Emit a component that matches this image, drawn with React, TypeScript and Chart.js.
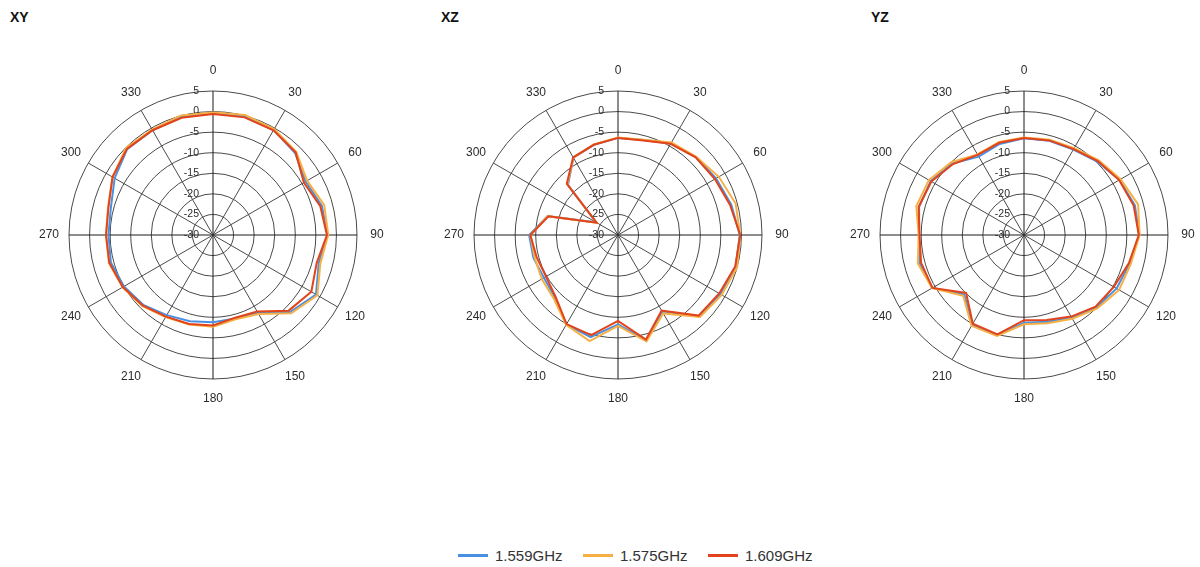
import React, { useEffect, useRef } from 'react';
import { Chart, registerables } from 'chart.js';

Chart.register(...registerables);

// Angles (degrees), one point every 15°, clockwise from top
const angleLabels = ['0', '15', '30', '45', '60', '75', '90', '105', '120', '135', '150', '165', '180', '195', '210', '225', '240', '255', '270', '285', '300', '315', '330', '345'];
const tickValues = [-30, -25, -20, -15, -10, -5, 0, 5];
const seriesNames = ['1.559GHz', '1.575GHz', '1.609GHz'];
const seriesColors = ['#4a90e2', '#f7b045', '#e2431b'];

// XY plane
const xy1559 = [-0.3, -0.2, -0.5, -1.8, -4.0, -2.6, -2.2, -3.4, -1.1, -3.5, -8.1, -9.0, -8.8, -8.3, -7.5, -6.0, -5.0, -4.3, -4.6, -4.3, -2.4, -0.5, -0.6, -0.3];
const xy1575 = [-0.2, 0.2, -0.3, -1.4, -3.6, -2.0, -2.0, -3.0, -0.7, -3.1, -7.8, -8.8, -7.7, -7.5, -7.0, -5.6, -4.6, -3.8, -4.0, -3.6, -1.8, -0.1, -0.4, 0.1];
const xy1609 = [-0.6, -0.4, -0.6, -1.6, -4.5, -3.0, -2.3, -3.9, -2.4, -4.0, -8.5, -9.2, -8.0, -7.6, -7.1, -5.8, -4.7, -3.9, -4.0, -3.7, -1.8, -0.4, -0.6, -0.5];

// XZ plane
const xz1559 = [-6.4, -6.1, -4.3, -3.2, -2.5, -1.5, -0.4, -0.4, -1.3, -2.1, -8.5, -3.5, -8.3, -4.3, -4.9, -8.4, -9.2, -8.7, -8.4, -12.3, -23.8, -12.8, -8.3, -7.3];
const xz1575 = [-6.3, -6.0, -4.0, -3.1, -1.7, -0.4, -0.3, 0.0, -0.9, -1.8, -8.0, -3.2, -7.9, -3.3, -4.8, -8.0, -8.6, -9.0, -8.7, -12.3, -24.0, -12.6, -8.3, -7.2];
const xz1609 = [-6.4, -6.2, -4.4, -3.3, -2.8, -1.8, -0.3, -0.5, -1.6, -2.3, -8.8, -3.7, -9.1, -4.8, -5.0, -8.6, -9.8, -9.5, -8.7, -12.5, -24.0, -12.4, -8.2, -7.3];

// YZ plane
const yz1559 = [-6.5, -6.3, -6.0, -4.8, -3.2, -2.1, -2.0, -3.4, -4.0, -5.1, -6.8, -8.2, -8.7, -4.8, -4.8, -9.5, -4.3, -3.7, -4.5, -3.6, -3.8, -5.4, -8.0, -7.1];
const yz1575 = [-6.3, -6.0, -5.6, -4.3, -2.9, -1.3, -1.9, -3.1, -3.3, -4.8, -6.5, -7.8, -8.3, -4.6, -4.5, -9.1, -4.2, -3.3, -4.4, -2.9, -3.3, -5.0, -7.4, -6.6];
const yz1609 = [-6.4, -6.2, -5.9, -4.6, -3.3, -2.4, -2.1, -3.6, -4.8, -5.4, -7.1, -8.6, -9.3, -5.0, -5.1, -10.1, -4.3, -4.1, -4.6, -3.5, -4.0, -5.6, -7.5, -6.8];

const panels = [
  { title: 'XY', titleX: 10, cx: 213, series: [xy1559, xy1575, xy1609] },
  { title: 'XZ', titleX: 441, cx: 618, series: [xz1559, xz1575, xz1609] },
  { title: 'YZ', titleX: 871, cx: 1024, series: [yz1559, yz1575, yz1609] },
];

const FONT = '"Liberation Sans", Arial, sans-serif';
const CANVAS_W = 352;
const CANVAS_H = 400;
const CENTER_Y = 235;

const polarLabelsPlugin = {
  id: 'polarLabels',
  beforeDatasetsDraw(chart: any) {
    const s = chart.scales.r;
    const ctx = chart.ctx;
    ctx.save();
    ctx.fillStyle = '#2b2b2b';
    ctx.font = '12px ' + FONT;
    ctx.textAlign = 'center';
    ctx.textBaseline = 'middle';
    chart.data.labels.forEach((lab: string, i: number) => {
      if (i % 2 !== 0) return;
      const p = s.getPointPosition(i, s.drawingArea + 20);
      ctx.fillText(lab, p.x, p.y);
    });
    ctx.font = '10.5px ' + FONT;
    ctx.textAlign = 'right';
    tickValues.forEach((v) => {
      const d = s.getDistanceFromCenterForValue(v);
      ctx.fillText(String(v), s.xCenter - 14, s.yCenter - d);
    });
    ctx.restore();
  },
};

function PolarChart({ series }: { series: number[][] }) {
  const ref = useRef<HTMLCanvasElement>(null);
  useEffect(() => {
    if (!ref.current) return;
    const chart = new Chart(ref.current, {
      type: 'radar',
      data: {
        labels: angleLabels,
        datasets: series.map((d, i) => ({
          label: seriesNames[i],
          data: d,
          borderColor: seriesColors[i],
          backgroundColor: 'transparent',
          borderWidth: 2,
          fill: false,
          pointRadius: 0,
          tension: 0,
          order: 2 - i,
        })),
      },
      options: {
        responsive: false,
        animation: false,
        layout: { padding: { left: 32, right: 32, top: 56, bottom: 56 } },
        plugins: { legend: { display: false }, tooltip: { enabled: false } },
        scales: {
          r: {
            min: -30,
            max: 5,
            ticks: { stepSize: 5, display: false },
            grid: { circular: true, color: '#4a4a4a', lineWidth: 1 },
            angleLines: {
              display: true,
              lineWidth: 1,
              color: (c: any) => (c.index % 6 === 0 ? '#1a1a1a' : c.index % 2 === 0 ? '#4a4a4a' : 'transparent'),
            },
            pointLabels: { display: false },
          },
        },
      } as any,
      plugins: [polarLabelsPlugin],
    });
    return () => chart.destroy();
  }, [series]);
  return <canvas ref={ref} width={CANVAS_W} height={CANVAS_H} style={{ width: CANVAS_W, height: CANVAS_H, display: 'block' }} />;
}

export default function App() {
  const legendX = [458, 583, 708];
  return (
    <div style={{ position: 'absolute', left: 0, top: 0, width: 1200, height: 567, overflow: 'hidden', background: '#fff', fontFamily: FONT }}>
      {panels.map((p) => (
        <React.Fragment key={p.title}>
          <div style={{ position: 'absolute', left: p.titleX, top: 8, fontSize: 14, fontWeight: 'bold', color: '#111', lineHeight: '18px' }}>{p.title}</div>
          <div style={{ position: 'absolute', left: p.cx - CANVAS_W / 2, top: CENTER_Y - CANVAS_H / 2 }}>
            <PolarChart series={p.series} />
          </div>
        </React.Fragment>
      ))}
      {seriesNames.map((n, i) => (
        <div key={n} style={{ position: 'absolute', left: legendX[i], top: 545, height: 20, display: 'flex', alignItems: 'center' }}>
          <div style={{ width: 30, height: 3, background: seriesColors[i] }} />
          <span style={{ marginLeft: 7, fontSize: 15, color: '#333' }}>{n}</span>
        </div>
      ))}
    </div>
  );
}
